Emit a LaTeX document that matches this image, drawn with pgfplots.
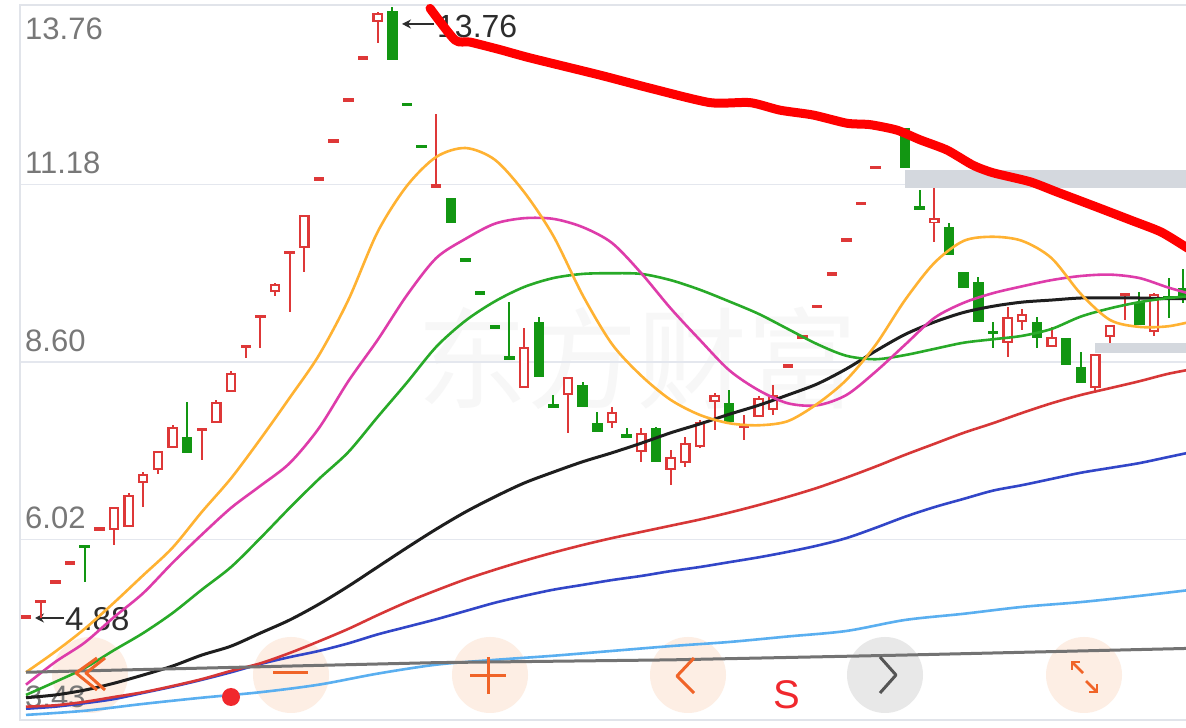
\documentclass[border=0pt]{standalone}
\usepackage{pgfplots}
\pgfplotsset{compat=1.18}
\usepackage{pgfplotstable}
\usepackage{fontspec}
\setmainfont{Liberation Sans}
\newfontfamily\cjk{Noto Sans CJK SC}
\usetikzlibrary{arrows.meta}
\definecolor{cred}{RGB}{222,56,56}
\definecolor{cgreen}{RGB}{18,150,18}
\definecolor{maorange}{RGB}{255,178,50}
\definecolor{mamag}{RGB}{222,60,170}
\definecolor{magreen}{RGB}{40,170,40}
\definecolor{mablack}{RGB}{30,30,30}
\definecolor{mared}{RGB}{215,55,55}
\definecolor{mablue}{RGB}{50,70,200}
\definecolor{malblue}{RGB}{90,175,240}
\definecolor{magray}{RGB}{115,115,115}
\definecolor{thickred}{RGB}{255,0,0}
\definecolor{bandc}{RGB}{212,216,222}
\definecolor{gridc}{RGB}{228,231,238}
\definecolor{framec}{RGB}{225,228,234}
\definecolor{tickc}{RGB}{120,120,120}
\definecolor{labc}{RGB}{45,45,45}
\definecolor{peach}{RGB}{253,238,228}
\definecolor{cgray}{RGB}{232,232,232}
\definecolor{uiorange}{RGB}{240,100,40}
\definecolor{uigray}{RGB}{85,85,85}
\definecolor{sred}{RGB}{240,40,45}

\pgfplotstableread{
x o h l c
0 4.89 4.89 4.89 4.89
1 5.10 5.14 4.88 5.14
2 5.40 5.40 5.40 5.40
3 5.68 5.68 5.68 5.68
5 6.17 6.17 6.17 6.17
6 6.16 6.49 5.94 6.49
7 6.20 6.70 6.20 6.67
8 6.84 7.00 6.49 6.97
9 7.03 7.31 6.97 7.31
10 7.35 7.68 7.35 7.66
12 7.60 7.64 7.18 7.64
13 7.71 8.05 7.71 8.02
14 8.16 8.47 8.16 8.44
15 8.80 8.85 8.66 8.85
16 9.24 9.28 8.80 9.28
17 9.62 9.75 9.56 9.73
18 10.17 10.21 9.33 10.21
19 10.26 10.74 9.91 10.74
20 11.26 11.26 11.26 11.26
21 11.81 11.81 11.81 11.81
22 12.41 12.41 12.41 12.41
23 13.02 13.02 13.02 13.02
24 13.54 13.69 13.24 13.67
28 11.13 12.20 11.13 11.19
34 8.22 9.09 8.22 8.82
37 8.12 8.38 7.57 8.38
40 7.71 7.95 7.64 7.87
42 7.29 7.64 7.15 7.57
44 7.03 7.32 6.81 7.22
45 7.13 7.51 7.07 7.42
46 7.36 7.76 7.35 7.73
47 8.02 8.15 7.61 8.12
49 7.64 7.83 7.47 7.68
50 7.80 8.11 7.80 8.08
51 7.90 8.27 7.83 8.12
52 8.54 8.54 8.54 8.54
53 8.96 8.96 8.96 8.96
54 9.41 9.41 9.41 9.41
55 9.88 9.88 9.88 9.88
56 10.37 10.37 10.37 10.37
57 10.90 10.90 10.90 10.90
58 11.43 11.43 11.43 11.43
59 11.97 11.97 11.97 11.97
62 10.62 11.13 10.34 10.69
67 8.88 9.40 8.67 9.26
68 9.18 9.37 9.07 9.30
70 8.82 9.11 8.82 8.96
73 8.22 8.72 8.16 8.72
74 8.96 9.14 8.88 9.14
75 9.56 9.60 9.21 9.60
77 9.04 9.60 8.98 9.59
}\redk

\pgfplotstableread{
x o h l c
4 5.93 5.93 5.40 5.90
11 7.51 8.02 7.28 7.28
25 13.70 13.76 12.99 12.99
26 12.34 12.34 12.34 12.34
27 11.73 11.73 11.73 11.73
29 10.98 10.98 10.62 10.62
30 10.08 10.08 10.08 10.08
31 9.60 9.60 9.60 9.60
32 9.11 9.11 9.11 9.11
33 8.67 9.47 8.64 8.64
35 9.18 9.26 8.38 8.38
36 7.97 8.12 7.95 7.95
38 8.27 8.31 7.95 7.95
39 7.71 7.87 7.58 7.58
41 7.54 7.64 7.51 7.51
43 7.64 7.66 7.15 7.15
48 8.00 8.19 7.73 7.73
60 12.00 12.00 11.42 11.42
61 10.85 11.10 10.82 10.82
63 10.56 10.62 10.16 10.16
64 9.91 9.91 9.68 9.68
65 9.76 9.84 9.18 9.18
66 9.04 9.18 8.80 9.01
69 9.18 9.26 8.80 8.95
71 8.95 8.95 8.56 8.56
72 8.53 8.74 8.30 8.30
76 9.47 9.62 9.14 9.14
78 9.54 9.82 9.24 9.52
79 9.68 9.95 9.46 9.54
}\greenk

\begin{document}
\begin{tikzpicture}
\path[use as bounding box] (0pt,0pt) rectangle (1186pt,728pt);
\fill[white] (0pt,0pt) rectangle (1186pt,728pt);
% watermark
\node[text=black!3, font=\cjk\fontsize{110}{110}\selectfont, inner sep=0pt] at (637pt,370pt) {东方财富};
% UI buttons background
\fill[peach] (90pt,53pt) circle (38pt);
\fill[peach] (291pt,53pt) circle (38pt);
\fill[peach] (490pt,53pt) circle (38pt);
\fill[peach] (688pt,53pt) circle (38pt);
\fill[cgray] (885pt,53pt) circle (38pt);
\fill[peach] (1084pt,53pt) circle (38pt);
% price labels
\node[anchor=north west, inner sep=0pt, text=tickc, font=\fontsize{31}{31}\selectfont] at (25pt,710pt) {13.76};
\draw[-{Stealth[length=9pt,width=9pt]}, line width=2.2pt, labc] (434pt,704pt) -- (402pt,704pt);
\node[anchor=west, inner sep=0pt, text=labc, font=\fontsize{32}{32}\selectfont] at (437pt,702pt) {13.76};
\draw[-{Stealth[length=9pt,width=9pt]}, line width=2.2pt, labc] (64pt,110pt) -- (35pt,110pt);
\node[anchor=west, inner sep=0pt, text=labc, font=\fontsize{33}{33}\selectfont] at (65pt,109pt) {4.88};

\begin{axis}[
  at={(20pt,8pt)}, anchor=south west,
  width=1180pt, height=715pt, scale only axis,
  xmin=-0.4096, xmax=80.137, ymin=3.396, ymax=13.789,
  xtick=\empty,
  ytick={6.02,8.60,11.18},
  yticklabels={6.02,8.60,11.18},
  extra y ticks={3.43}, extra y tick labels={3.43},
  extra y tick style={grid=none},
  ymajorgrids, grid style={line width=1.5pt, color=gridc},
  major tick length=0pt,
  yticklabel style={anchor=south west, inner sep=0pt, xshift=5pt, yshift=10pt,
     font=\fontsize{31}{31}\selectfont, text=tickc},
  axis line style={line width=1.5pt, draw=framec},
]
% bands
\fill[bandc] (axis cs:60.0,11.13) rectangle (axis cs:81,11.39);
\fill[bandc] (axis cs:72.97,8.73) rectangle (axis cs:81,8.88);

% wicks
\addplot[draw=none, mark=none, error bars/.cd, y dir=both, y explicit, error mark=none,
  error bar style={line width=2pt, draw=cred}]
  table[x=x, y expr={(\thisrow{h}+\thisrow{l})/2}, y error expr={(\thisrow{h}-\thisrow{l})/2}] {\redk};
\addplot[draw=none, mark=none, error bars/.cd, y dir=both, y explicit, error mark=none,
  error bar style={line width=2pt, draw=cgreen}]
  table[x=x, y expr={(\thisrow{h}+\thisrow{l})/2}, y error expr={(\thisrow{h}-\thisrow{l})/2}] {\greenk};
% bodies
\addplot[draw=none, mark=none, error bars/.cd, y dir=both, y explicit, error mark=none,
  error bar style={line width=10.5pt, draw=cred}]
  table[x=x, y expr={(\thisrow{o}+\thisrow{c})/2}, y error expr={max(abs(\thisrow{c}-\thisrow{o})/2,0.025)}] {\redk};
\addplot[draw=none, mark=none, error bars/.cd, y dir=both, y explicit, error mark=none,
  error bar style={line width=6pt, draw=white}]
  table[x=x, y expr={(\thisrow{o}+\thisrow{c})/2}, y error expr={max(abs(\thisrow{c}-\thisrow{o})/2-0.032,0)}] {\redk};
\addplot[draw=none, mark=none, error bars/.cd, y dir=both, y explicit, error mark=none,
  error bar style={line width=10.5pt, draw=cgreen}]
  table[x=x, y expr={(\thisrow{o}+\thisrow{c})/2}, y error expr={max(abs(\thisrow{c}-\thisrow{o})/2,0.025)}] {\greenk};

% moving averages
\addplot[malblue, line width=2.6pt, smooth] coordinates {
(0,3.47) (4,3.53) (8,3.63) (12,3.72) (16,3.80) (20,3.91) (24,4.07) (28,4.20) (32,4.27) (36,4.33) (40,4.40) (44,4.47) (48,4.53) (52,4.61) (56,4.69) (60,4.85) (64,4.94) (68,5.04) (72,5.11) (76,5.20) (80,5.30)};
\addplot[mablue, line width=2.6pt, smooth] coordinates {
(0,3.56) (2,3.59) (4,3.64) (6,3.70) (8,3.79) (10,3.88) (12,3.98) (14,4.09) (16,4.21) (18,4.31) (20,4.40) (22,4.51) (24,4.64) (26,4.75) (28,4.86) (30,4.98) (32,5.10) (34,5.20) (36,5.29) (38,5.36) (40,5.43) (42,5.49) (44,5.56) (46,5.62) (48,5.69) (50,5.76) (52,5.84) (54,5.93) (56,6.04) (58,6.19) (60,6.35) (62,6.49) (64,6.61) (66,6.73) (68,6.81) (70,6.90) (72,6.99) (74,7.06) (76,7.13) (78,7.22) (80,7.31)};
\addplot[mared, line width=2.6pt, smooth] coordinates {
(0,3.59) (2,3.61) (4,3.66) (6,3.73) (8,3.80) (10,3.89) (12,3.99) (14,4.11) (16,4.22) (18,4.37) (20,4.54) (22,4.72) (24,4.92) (26,5.11) (28,5.28) (30,5.44) (32,5.58) (34,5.71) (36,5.83) (38,5.94) (40,6.04) (42,6.13) (44,6.22) (46,6.31) (48,6.41) (50,6.52) (52,6.64) (54,6.77) (56,6.92) (58,7.08) (60,7.25) (62,7.41) (64,7.57) (66,7.71) (68,7.86) (70,8.00) (72,8.12) (74,8.22) (76,8.32) (78,8.43) (80,8.51)};
\addplot[mablack, line width=3pt, smooth] coordinates {
(0,3.72) (2,3.76) (4,3.83) (6,3.93) (8,4.05) (10,4.18) (12,4.34) (14,4.47) (16,4.66) (18,4.85) (20,5.08) (22,5.34) (24,5.62) (26,5.90) (28,6.17) (30,6.42) (32,6.64) (34,6.84) (36,7.00) (38,7.15) (40,7.28) (42,7.42) (44,7.57) (46,7.70) (48,7.84) (50,7.97) (52,8.12) (54,8.28) (56,8.50) (58,8.76) (60,9.00) (62,9.18) (64,9.32) (66,9.41) (68,9.47) (70,9.50) (72,9.53) (74,9.53) (76,9.53) (78,9.52) (80,9.52)};
\addplot[magreen, line width=2.6pt, smooth] coordinates {
(0,3.76) (2,3.95) (4,4.15) (6,4.41) (8,4.66) (10,4.95) (12,5.29) (14,5.62) (16,6.04) (18,6.48) (20,6.90) (22,7.29) (24,7.80) (26,8.30) (28,8.82) (30,9.20) (32,9.48) (34,9.69) (36,9.82) (38,9.88) (40,9.89) (42,9.88) (44,9.79) (46,9.65) (48,9.48) (50,9.30) (52,9.08) (54,8.86) (56,8.69) (58,8.64) (60,8.70) (62,8.79) (64,8.88) (66,8.93) (68,8.98) (70,9.08) (72,9.26) (74,9.38) (76,9.47) (78,9.53) (80,9.56)};
\addplot[mamag, line width=2.6pt, smooth] coordinates {
(0,3.91) (2,4.24) (4,4.52) (6,4.89) (8,5.24) (10,5.68) (12,6.09) (14,6.48) (16,6.80) (18,7.13) (20,7.64) (22,8.32) (24,8.92) (26,9.57) (28,10.11) (30,10.39) (32,10.61) (34,10.69) (36,10.68) (38,10.56) (40,10.33) (42,9.89) (44,9.38) (46,8.92) (48,8.48) (50,8.19) (52,8.00) (54,7.97) (56,8.12) (58,8.46) (60,8.85) (62,9.24) (64,9.46) (66,9.60) (68,9.70) (70,9.79) (72,9.85) (74,9.87) (76,9.82) (78,9.68) (80,9.56)};
\addplot[maorange, line width=2.6pt, smooth] coordinates {
(0,4.09) (2,4.39) (4,4.72) (6,5.10) (8,5.50) (10,5.90) (12,6.42) (14,6.91) (16,7.48) (18,8.08) (20,8.70) (22,9.50) (24,10.49) (26,11.16) (28,11.58) (30,11.71) (32,11.54) (34,11.07) (36,10.43) (38,9.57) (40,8.86) (42,8.40) (44,8.05) (46,7.83) (48,7.71) (50,7.68) (52,7.74) (54,7.99) (56,8.34) (58,8.85) (60,9.50) (62,10.04) (64,10.36) (66,10.42) (68,10.36) (70,10.11) (72,9.59) (74,9.21) (76,9.11) (78,9.12) (80,9.21)};
\addplot[magray, line width=3pt] coordinates {
(0,4.09) (28,4.23) (44,4.27) (60,4.34) (80,4.44)};
% thick red pressure line
\addplot[thickred, line width=9pt, line cap=round, line join=round, smooth, tension=0.4] coordinates {
(27.58,13.74) (29.28,13.28) (30.31,13.25) (32.35,13.14) (34.40,13.02) (39.18,12.77) (42.59,12.58) (46.69,12.37) (49.42,12.37) (51.47,12.26) (53.72,12.19) (56.04,12.07) (57.61,12.05) (59.45,11.97) (61.02,11.83) (62.87,11.68) (64.64,11.46) (66.01,11.35) (68.53,11.22) (70.38,11.07) (73.11,10.85) (75.43,10.66) (77.47,10.49) (79.18,10.27) (80.0,10.16)};
\end{axis}

% UI symbols
\draw[uiorange, line width=3pt, line join=round] (97pt,70pt) -- (76pt,55pt) -- (97pt,38pt);
\draw[uiorange, line width=3pt, line join=round] (105pt,70pt) -- (86pt,55pt) -- (105pt,38pt);
\draw[uiorange, line width=3pt] (273pt,55pt) -- (308pt,55pt);
\draw[uiorange, line width=3pt] (470pt,52pt) -- (506pt,52pt);
\draw[uiorange, line width=3pt] (488pt,34pt) -- (488pt,71pt);
\draw[uiorange, line width=3pt, line join=round] (694pt,70pt) -- (677pt,52pt) -- (694pt,35pt);
\draw[uigray, line width=3pt, line join=round] (880pt,71pt) -- (896pt,53pt) -- (880pt,35pt);
\draw[uiorange, line width=2.5pt] (1072pt,66pt) -- (1083pt,55pt);
\draw[uiorange, line width=2.5pt] (1072pt,58pt) -- (1072pt,66pt) -- (1080pt,66pt);
\draw[uiorange, line width=2.5pt] (1086pt,47pt) -- (1097pt,36pt);
\draw[uiorange, line width=2.5pt] (1089pt,36pt) -- (1097pt,36pt) -- (1097pt,44pt);
\node[text=sred, font=\fontsize{40}{40}\selectfont, inner sep=0pt] at (787pt,33pt) {S};
\fill[sred] (231pt,31pt) circle (9pt);
\end{tikzpicture}
\end{document}
